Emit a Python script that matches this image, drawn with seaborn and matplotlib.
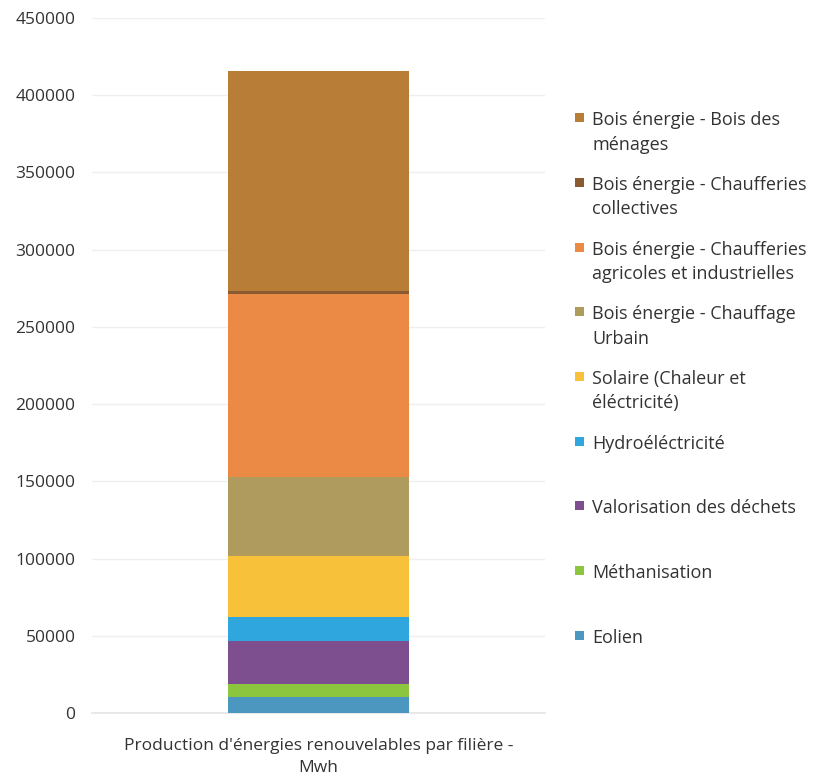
import numpy as np
import pandas as pd
import seaborn as sns
import matplotlib
matplotlib.use("Agg")
import matplotlib.pyplot as plt
from matplotlib.patches import Rectangle
from matplotlib.legend_handler import HandlerPatch

# ---- data (bottom to top of stack) ----
category = "Production d'énergies renouvelables par filière -\nMwh"
series = [
    "Eolien",
    "Méthanisation",
    "Valorisation des déchets",
    "Hydroéléctricité",
    "Solaire (Chaleur et\néléctricité)",
    "Bois énergie - Chauffage\nUrbain",
    "Bois énergie - Chaufferies\nagricoles et industrielles",
    "Bois énergie - Chaufferies\ncollectives",
    "Bois énergie - Bois des\nménages",
]
values = [10500, 8500, 27500, 15500, 39500, 51500, 118000, 2500, 142000]
colors = ["#4C97C0", "#8CC63F", "#7E4F8E", "#2FA6DE", "#F8C13A",
          "#B09B5E", "#EB8A45", "#8A5A30", "#B87E38"]
yticks = [0, 50000, 100000, 150000, 200000, 250000, 300000, 350000, 400000, 450000]

sns.set_theme(style="white")
plt.rcParams["font.family"] = ["Open Sans", "DejaVu Sans"]

fig = plt.figure(figsize=(8.15, 7.76), dpi=100)
ax = fig.add_axes([0.113, 0.081, 0.556, 0.896])

df = pd.DataFrame({"serie": series, "value": values, "color": colors})
df["cum"] = df["value"].cumsum()
df["cat"] = category

# draw cumulative bars, largest first so smaller ones overlay
for i in range(len(df) - 1, -1, -1):
    sub = df.iloc[[i]]
    sns.barplot(data=sub, x="cat", y="cum", color=df["color"].iloc[i],
                saturation=1, width=0.4, ax=ax, zorder=3, linewidth=0)

ax.set_ylim(0, 450000)
ax.set_yticks(yticks)
ax.set_yticklabels([str(t) for t in yticks], fontsize=12.5, color="#333333")
for t in ax.get_xticklabels():
    t.set_linespacing(1.45)
    t.set_fontsize(12.5)
    t.set_color("#333333")
ax.tick_params(axis="x", length=0, pad=18)
ax.tick_params(axis="y", length=0, pad=12)
ax.set_xlabel("")
ax.set_ylabel("")
ax.grid(axis="y", color="#EFEFEF", linewidth=1, zorder=0)
for s in ["top", "right", "left"]:
    ax.spines[s].set_visible(False)
ax.spines["bottom"].set_color("#E6E6E6")

class ShiftedHandler(HandlerPatch):
    def create_artists(self, legend, orig_handle, xdescent, ydescent,
                       width, height, fontsize, trans):
        r = Rectangle((0, height * 0.5 + fontsize * 0.6), 9.0 / 100 * 72, 9.0 / 100 * 72,
                      facecolor=orig_handle.get_facecolor(), edgecolor="none",
                      transform=trans)
        return [r]

handles, labels = [], []
for i in range(len(df) - 1, -1, -1):
    lab = df["serie"].iloc[i]
    if "\n" not in lab:
        lab = lab + "\n "
    handles.append(Rectangle((0, 0), 1, 1, facecolor=df["color"].iloc[i]))
    labels.append(lab)

leg = fig.legend(handles, labels, loc="upper left", bbox_to_anchor=(0.697, 0.866),
                 frameon=False, fontsize=13, labelspacing=1.24, handlelength=0.7,
                 handletextpad=0.25, borderaxespad=0,
                 handler_map={Rectangle: ShiftedHandler()})
for t in leg.get_texts():
    t.set_color("#333333")
    t.set_linespacing(1.45)

fig.savefig("out.png", dpi=100)
